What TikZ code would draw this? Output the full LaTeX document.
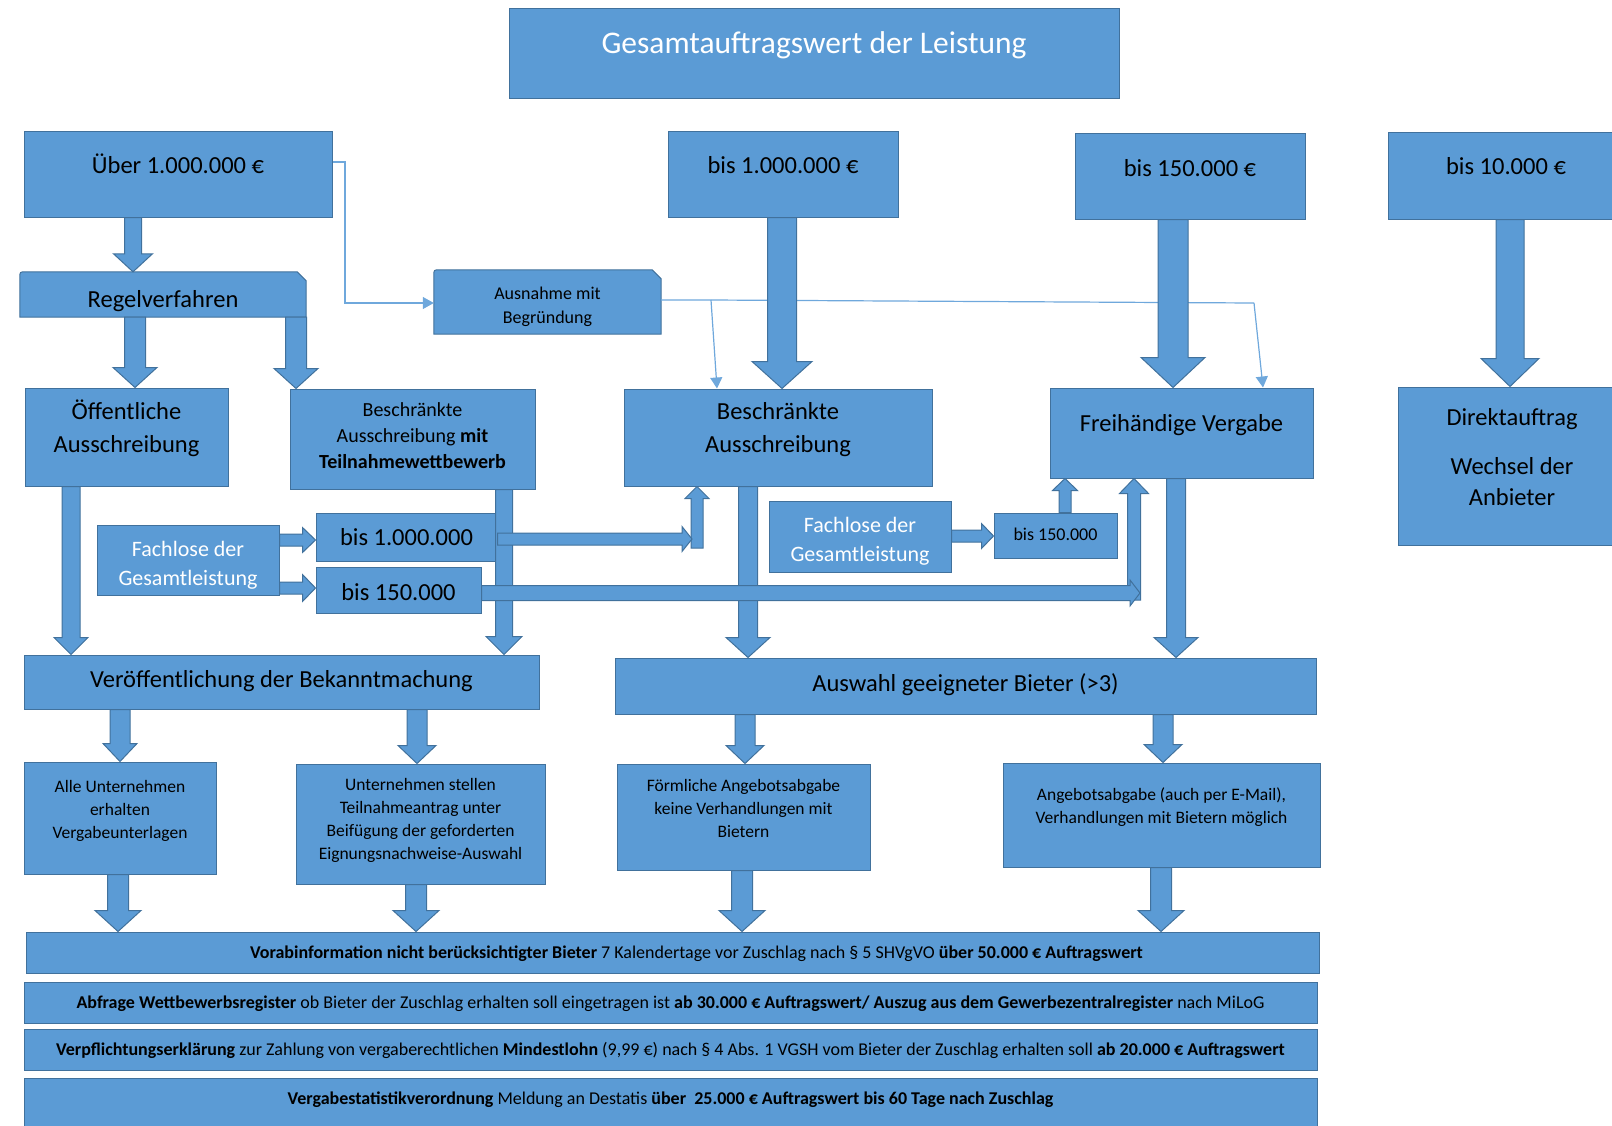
\documentclass[tikz,border=0pt]{standalone}
\usepackage{fontspec}
\setmainfont{Carlito}
\usetikzlibrary{calc, arrows.meta}
\definecolor{boxblue}{HTML}{5B9BD5}
\definecolor{boxline}{HTML}{41719C}
\definecolor{linkblue}{HTML}{6FA8DC}
\pgfdeclarelayer{background}
\pgfsetlayers{background,main}
\newcommand\lift[2]{\raisebox{#1}[\height][\depth]{\begin{tabular}{@{}c@{}}#2\end{tabular}}}
\newcommand\snipshape[1]{%
	\begin{pgfonlayer}{background}
		\draw[boxshape] (#1.south west) -- ($(#1.north west)+(0,6)$) .. controls (#1.north west) .. ($(#1.north west)+(6,0)$)
			-- ($(#1.north east)+(-9,0)$) -- ($(#1.north east)+(0,9)$) -- (#1.south east) -- cycle;
	\end{pgfonlayer}}
\tikzset{
	boxshape/.style={draw=boxline, fill=boxblue, line width=1pt},
	box/.style={boxshape, inner sep=0pt, text=black},
	sz/.style 2 args={minimum width=#1pt, minimum height=#2pt},
	titletxt/.style={font=\fontsize{31.5}{38}\selectfont},
	bigtxt/.style={font=\fontsize{24.5}{33}\selectfont},
	midtxt/.style={font=\fontsize{20}{26}\selectfont},
	fachtxt/.style={font=\fontsize{22}{29}\selectfont},
	ausntxt/.style={font=\fontsize{18}{24}\selectfont},
	smalltxt/.style={font=\fontsize{17.5}{23}\selectfont},
	bartxt/.style={font=\fontsize{18}{22}\selectfont},
	thinlink/.style={draw=linkblue, line width=1.2pt},
	thinarrow/.style={thinlink, -{Triangle[width=12pt,length=11pt]}},
	blk/.style args={#1/#2/#3}{boxshape, to path={let \p1=(\tikztostart), \p2=(\tikztotarget),
		\n1={veclen(\x2-\x1,\y2-\y1)}, \n2={(\x2-\x1)/\n1}, \n3={(\y2-\y1)/\n1} in
		(\x1-\n3*#1,\y1+\n2*#1) -- (\x2-\n2*#3-\n3*#1,\y2-\n3*#3+\n2*#1) -- (\x2-\n2*#3-\n3*#2,\y2-\n3*#3+\n2*#2)
		-- (\x2,\y2) -- (\x2-\n2*#3+\n3*#2,\y2-\n3*#3-\n2*#2) -- (\x2-\n2*#3+\n3*#1,\y2-\n3*#3-\n2*#1)
		-- (\x1+\n3*#1,\y1-\n2*#1) -- cycle}}
}

\begin{document}
\begin{tikzpicture}[x=1pt,y=-1pt,line join=miter]
	\useasboundingbox (0,0) rectangle (1612,1125);
	\clip (0,0) rectangle (1612,1125);

	\node[box, titletxt, text=white, sz={610}{90}] (titel) at (814,53) {\lift{7pt}{Gesamtauftragswert der Leistung}};

	\node[box, bigtxt, sz={308}{86}] (ueber) at (178,174) {\lift{7pt}{Über 1.000.000 €}};
	\node[box, bigtxt, sz={230}{86}] (bisM) at (783,174) {\lift{7pt}{bis 1.000.000 €}};
	\node[box, bigtxt, sz={230}{86}] (bisHT) at (1190,176) {\lift{6.5pt}{bis 150.000 €}};
	\node[box, bigtxt, sz={236}{87}] (bisZT) at (1506,175.5) {\lift{7.5pt}{bis 10.000 €}};

	\node[bigtxt, inner sep=0pt, sz={286}{45}] (regel) at (163,294.5) {\lift{-6.5pt}{Regelverfahren}};
	\snipshape{regel}
	\node[ausntxt, inner sep=0pt, sz={227}{64}] (ausnahme) at (547.5,302) {\lift{-5pt}{Ausnahme mit\\Begründung}};
	\snipshape{ausnahme}

	\node[box, bigtxt, sz={203}{98}] (oeff) at (126.5,437) {\lift{7.5pt}{Öffentliche\\Ausschreibung}};
	\node[box, midtxt, sz={245}{100}] (beschrTW) at (412.5,439) {\lift{2pt}{Beschränkte\\Ausschreibung \textbf{mit}\\\textbf{Teilnahmewettbewerb}}};
	\node[box, bigtxt, sz={308}{97}] (beschr) at (778,437.5) {\lift{8pt}{Beschränkte\\Ausschreibung}};
	\node[box, bigtxt, sz={263}{90}] (freih) at (1181.5,433) {\lift{8pt}{Freihändige Vergabe}};
	\node[box, bigtxt, sz={228}{158}] (direkt) at (1512,466) {\lift{7pt}{Direktauftrag\\[16pt]Wechsel der\\[-2pt]Anbieter}};

	\node[box, fachtxt, text=white, sz={182}{70}] (fachL) at (188,560) {\lift{-5.5pt}{Fachlose der\\Gesamtleistung}};
	\node[box, bigtxt, sz={181}{48}] (losM) at (406.5,537) {\lift{-2pt}{bis 1.000.000}};
	\node[box, bigtxt, sz={165}{46}] (losHT) at (398.5,590) {\lift{-4pt}{bis 150.000}};
	\node[box, fachtxt, text=white, sz={182}{71}] (fachR) at (860,536.5) {\lift{-5pt}{Fachlose der\\Gesamtleistung}};
	\node[box, ausntxt, sz={123}{45}] (losR) at (1055.5,535.5) {\lift{0pt}{bis 150.000}};

	\node[box, bigtxt, sz={515}{54}] (veroeff) at (281.5,682) {\lift{1pt}{Veröffentlichung der Bekanntmachung}};
	\node[box, bigtxt, sz={701}{56}] (auswahl) at (965.5,686) {\lift{1pt}{Auswahl geeigneter Bieter (>3)}};

	\node[box, smalltxt, sz={192}{112}] (alle) at (120,818) {\lift{7.5pt}{Alle Unternehmen\\erhalten\\Vergabeunterlagen}};
	\node[box, smalltxt, sz={249}{120}] (untern) at (420.5,824) {\lift{4pt}{Unternehmen stellen\\Teilnahmeantrag unter\\Beifügung der geforderten\\Eignungsnachweise-Auswahl}};
	\node[box, smalltxt, sz={253}{106}] (foerm) at (743.5,817) {\lift{7.5pt}{Förmliche Angebotsabgabe\\keine Verhandlungen mit\\Bietern}};
	\node[box, smalltxt, sz={317}{104}] (angebot) at (1161.5,815) {\lift{8pt}{Angebotsabgabe (auch per E-Mail),\\Verhandlungen mit Bietern möglich}};

	\node[box, bartxt, sz={1293}{41}] (info) at (672.5,952.5) {\lift{-1.5pt}{\hspace*{48pt}\textbf{Vorabinformation nicht berücksichtigter Bieter} 7 Kalendertage vor Zuschlag nach § 5 SHVgVO \textbf{über 50.000 € Auftragswert}}};
	\node[box, bartxt, sz={1293}{41}] (register) at (670.5,1002.5) {\lift{-1.5pt}{\textbf{Abfrage Wettbewerbsregister} ob Bieter der Zuschlag erhalten soll eingetragen ist \textbf{ab 30.000 € Auftragswert/ Auszug aus dem Gewerbezentralregister} nach MiLoG}};
	\node[box, bartxt, sz={1293}{41}] (lohn) at (670.5,1049.5) {\lift{-1.5pt}{\textbf{Verpflichtungserklärung} zur Zahlung von vergaberechtlichen \textbf{Mindestlohn} (9,99 €) nach § 4 Abs. 1 VGSH vom Bieter der Zuschlag erhalten soll \textbf{ab 20.000 € Auftragswert}}};
	\node[box, bartxt, sz={1293}{62}] (statistik) at (670.5,1109) {\lift{8.5pt}{\textbf{Vergabestatistikverordnung} Meldung an Destatis \textbf{über\ \ 25.000 € Auftragswert bis 60 Tage nach Zuschlag}}};

	\coordinate (knickA) at (345,162);
	\coordinate (abzweigB) at (711,300);
	\coordinate (abzweigF) at (1254,303);
	\draw[thinarrow] (ueber.east |- knickA) -- (knickA) |- (ausnahme.west |- 0,303);
	\draw[thinlink] (ausnahme.east |- abzweigB) -- (abzweigB) -- (abzweigF);
	\draw[thinarrow] (abzweigB) -- (717,0 |- beschr.north);
	\draw[thinarrow] (abzweigF) -- (1263,0 |- freih.north);

	\draw[blk=8.5/19.5/18] (133,0 |- ueber.south) to (133,0 |- regel.north);
	\draw[blk=10.5/22/20] (135,0 |- regel.south) to (135,0 |- oeff.north);
	\draw[blk=10.5/22/20] (296,0 |- regel.south) to (296,0 |- beschrTW.north);
	\draw[blk=14.5/30/27] (782,0 |- bisM.south) to (782,0 |- beschr.north);
	\draw[blk=15/32/30] (1173,0 |- bisHT.south) to (1173,0 |- freih.north);
	\draw[blk=14/29/28] (1510,0 |- bisZT.south) to (1510,0 |- direkt.north);
	\draw[blk=9/17/17] (71,0 |- oeff.south) to (71,0 |- veroeff.north);
	\draw[blk=8.5/18/18] (504,0 |- beschrTW.south) to (504,0 |- veroeff.north);
	\draw[blk=9.5/22/20] (748,0 |- beschr.south) to (748,0 |- auswahl.north);
	\draw[blk=9.5/22/20] (1176,0 |- freih.south) to (1176,0 |- auswahl.north);
	\draw[blk=10/17/18] (120,0 |- veroeff.south) to (120,0 |- alle.north);
	\draw[blk=10/19/18] (417,0 |- veroeff.south) to (417,0 |- untern.north);
	\draw[blk=10/19/18] (745,0 |- auswahl.south) to (745,0 |- foerm.north);
	\draw[blk=10/19/18] (1163,0 |- auswahl.south) to (1163,0 |- angebot.north);
	\foreach \xpos/\von in {118/alle,416/untern,742/foerm,1161/angebot}
		\draw[blk=10.5/23/21] (\xpos,0 |- \von.south) to (\xpos,0 |- info.north);

	\coordinate (eckM) at (697,548);
	\coordinate (eckHT) at (1134,600);
	\draw[blk=6/12.5/13] (fachL.east |- 0,540) to (losM.west |- 0,540);
	\draw[blk=6/13.5/13] (fachL.east |- 0,588) to (losHT.west |- 0,588);
	\draw[blk=6/12.5/12] (fachR.east |- 0,536) to (losR.west |- 0,536);
	\draw[blk=6/12.5/12] (1065,0 |- losR.north) to (1065,0 |- freih.south);
	\draw[blk=6/12/12] (eckM) to (eckM |- beschr.south);
	\draw[blk=6/12.5/10] (losM.east |- 0,539) to (692,539);
	\draw[blk=6.5/14.5/15] (eckHT) to (eckHT |- freih.south);
	\draw[blk=7.5/13/10] (losHT.east |- 0,593) to (1140,593);
\end{tikzpicture}
\end{document}
